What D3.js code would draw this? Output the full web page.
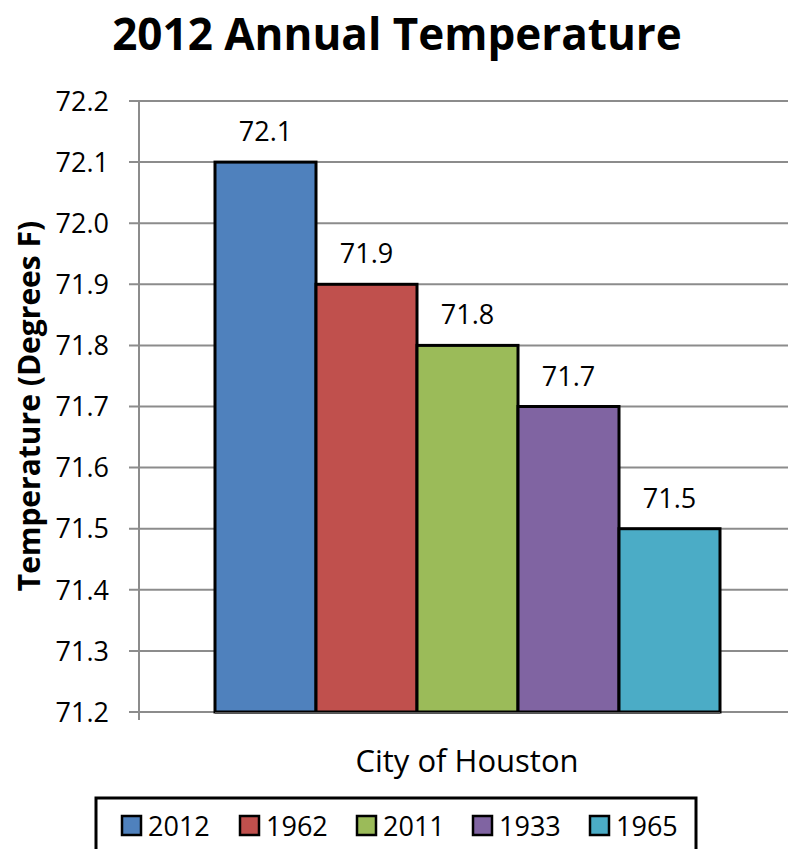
<!DOCTYPE html>
<html>
<head>
<meta charset="utf-8">
<script src="https://cdn.jsdelivr.net/npm/d3@7"></script>
<style>
  body { margin: 0; background: #fff; }
  svg { display: block; font-family: "Open Sans", sans-serif; }
</style>
</head>
<body>
<svg id="chart" width="788" height="849"></svg>
<script>
"use strict";

const years = ["2012", "1962", "2011", "1933", "1965"];
const temps = [72.1, 71.9, 71.8, 71.7, 71.5];
const colors = ["#4f81bd", "#c0504d", "#9bbb59", "#8064a2", "#4bacc6"];
const yTicks = [71.2, 71.3, 71.4, 71.5, 71.6, 71.7, 71.8, 71.9, 72.0, 72.1, 72.2];
const category = "City of Houston";

const svg = d3.select("#chart");

// plot area
const plotLeft = 139, plotRight = 788, plotTop = 101, plotBottom = 712;

const y = d3.scaleLinear().domain([71.2, 72.2]).range([plotBottom, plotTop]);
const x = d3.scaleBand().domain(years).range([215, 720]).padding(0);

// gridlines
svg.append("g").selectAll("line")
    .data(yTicks)
    .join("line")
    .attr("x1", plotLeft - 10)
    .attr("x2", plotRight)
    .attr("y1", d => y(d))
    .attr("y2", d => y(d))
    .attr("stroke", "#8c8c8c")
    .attr("stroke-width", 2);

// y axis line
svg.append("line")
    .attr("x1", plotLeft).attr("x2", plotLeft)
    .attr("y1", plotTop).attr("y2", plotBottom + 8)
    .attr("stroke", "#8c8c8c")
    .attr("stroke-width", 2);

// tick labels
svg.append("g").selectAll("text")
    .data(yTicks)
    .join("text")
    .attr("x", 109)
    .attr("y", d => y(d))
    .attr("dy", "0.36em")
    .attr("text-anchor", "end")
    .style("font-size", "27px")
    .text(d => d.toFixed(1));

// bars
svg.append("g").selectAll("rect")
    .data(temps)
    .join("rect")
    .attr("x", (d, i) => x(years[i]))
    .attr("y", d => y(d))
    .attr("width", x.bandwidth())
    .attr("height", d => y(71.2) - y(d))
    .attr("fill", (d, i) => colors[i])
    .attr("stroke", "#000")
    .attr("stroke-width", 3);

// value labels
svg.append("g").selectAll("text")
    .data(temps)
    .join("text")
    .attr("x", (d, i) => x(years[i]) + x.bandwidth() / 2)
    .attr("y", d => y(d) - 21)
    .attr("text-anchor", "middle")
    .style("font-size", "27px")
    .text(d => d.toFixed(1));

// baseline under bars
svg.append("line")
    .attr("x1", 215).attr("x2", 720)
    .attr("y1", plotBottom + 1).attr("y2", plotBottom + 1)
    .attr("stroke", "#555")
    .attr("stroke-width", 2);

// title
svg.append("text")
    .attr("x", 397)
    .attr("y", 50)
    .attr("text-anchor", "middle")
    .style("font-size", "44px")
    .style("font-weight", "bold")
    .text("2012 Annual Temperature");

// y axis title
svg.append("text")
    .attr("transform", "translate(40,406) rotate(-90)")
    .attr("text-anchor", "middle")
    .style("font-size", "30px")
    .style("font-weight", "bold")
    .text("Temperature (Degrees F)");

// category label
svg.append("text")
    .attr("x", 467)
    .attr("y", 772)
    .attr("text-anchor", "middle")
    .style("font-size", "31px")
    .text(category);

// legend
svg.append("rect")
    .attr("x", 96).attr("y", 798)
    .attr("width", 600).attr("height", 70)
    .attr("fill", "none")
    .attr("stroke", "#000")
    .attr("stroke-width", 3);

const legendX = [122, 240, 357, 473, 590];
const items = svg.append("g").selectAll("g")
    .data(years)
    .join("g")
    .attr("transform", (d, i) => `translate(${legendX[i]},816)`);

items.append("rect")
    .attr("width", 19).attr("height", 19)
    .attr("fill", (d, i) => colors[i])
    .attr("stroke", "#000")
    .attr("stroke-width", 2.5);

items.append("text")
    .attr("x", 26)
    .attr("y", 10)
    .attr("dy", "0.36em")
    .style("font-size", "27px")
    .text(d => d);
</script>
</body>
</html>
